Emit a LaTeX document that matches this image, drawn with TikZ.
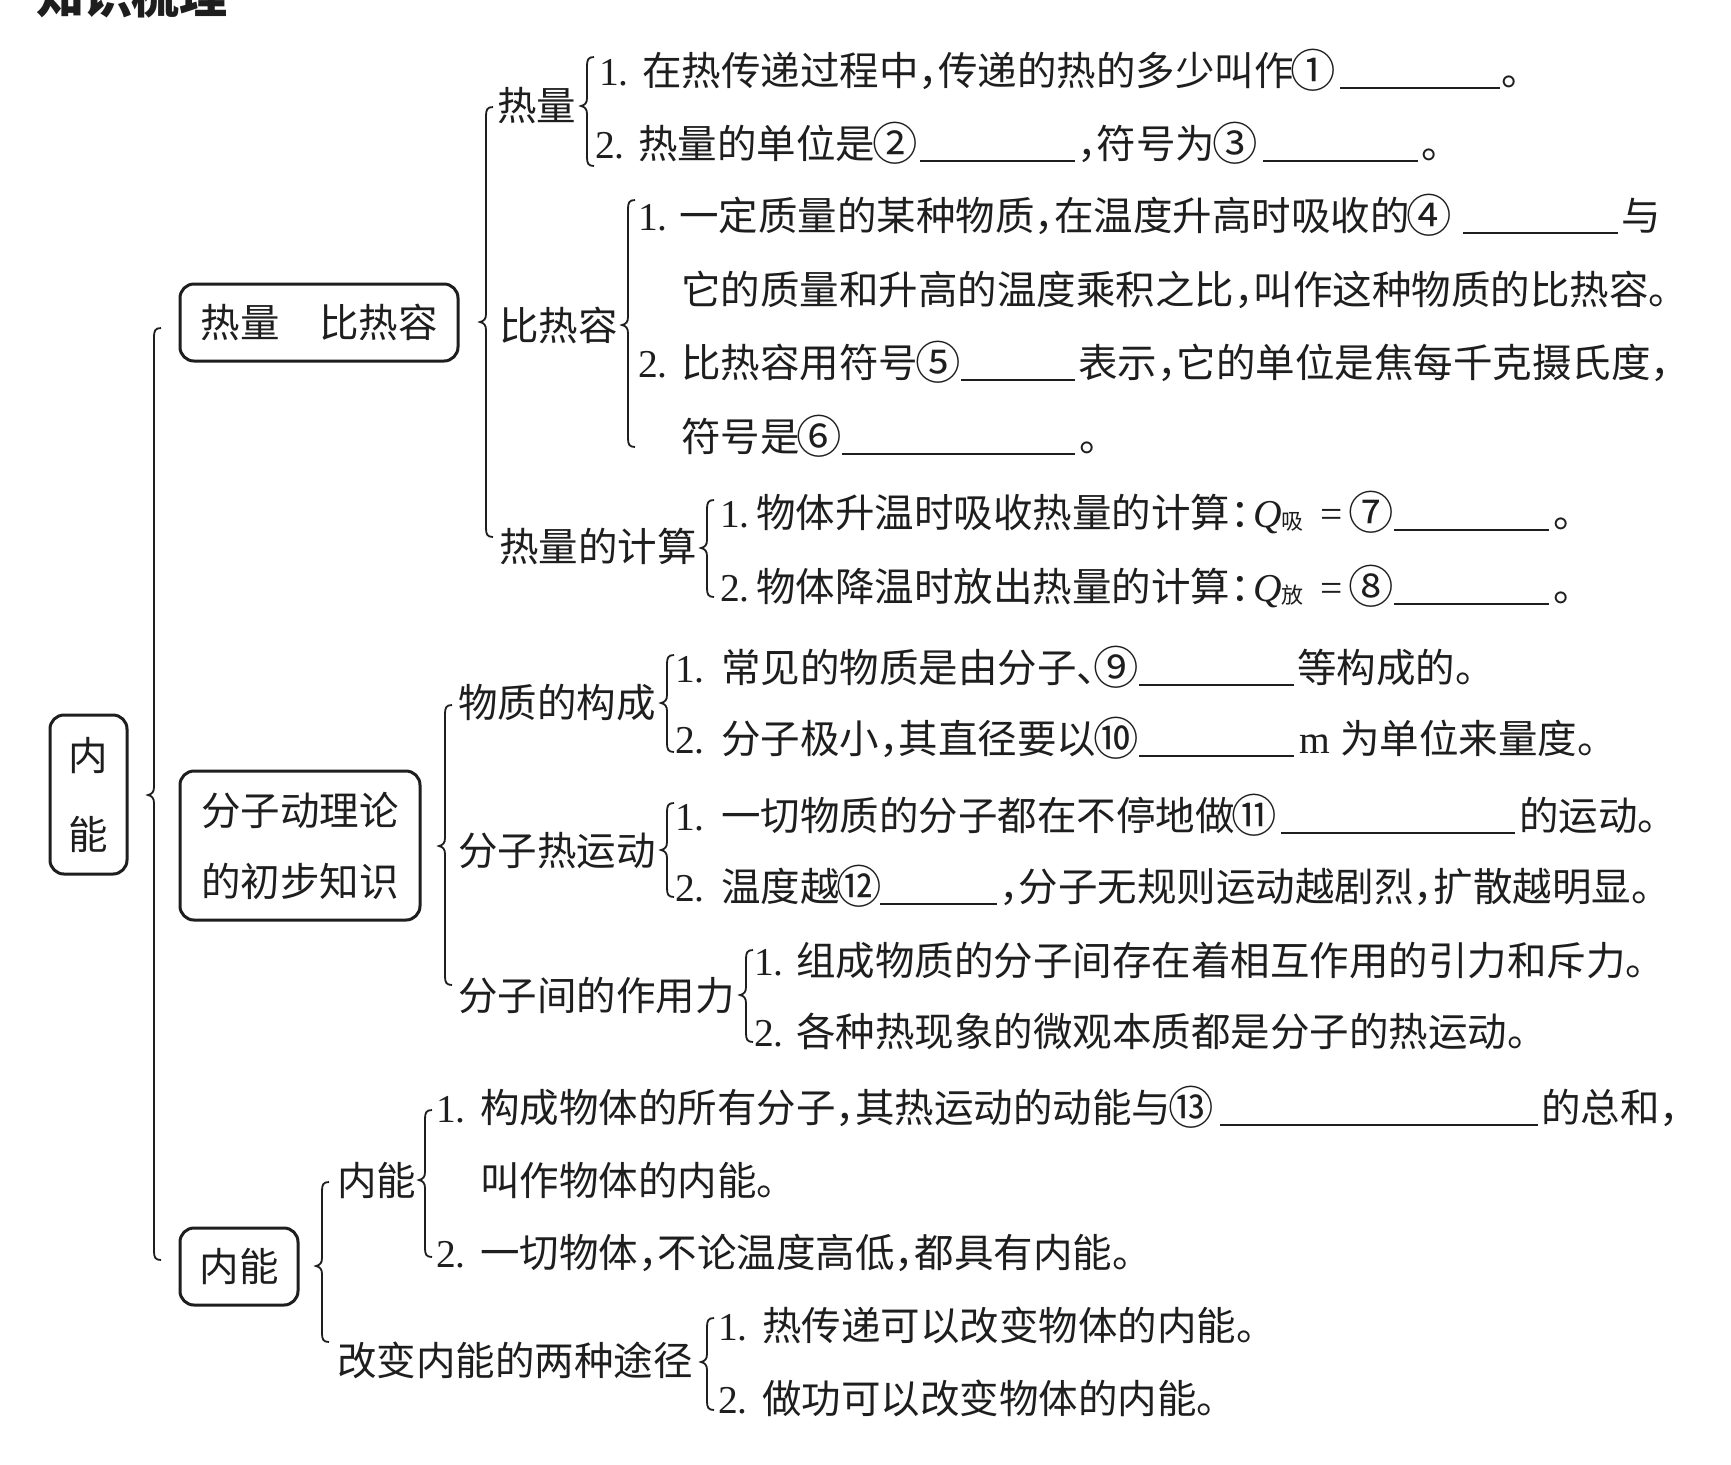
\documentclass[tikz,border=0pt]{standalone}
\usepackage{fontspec}
\usepackage{graphicx}
\setmainfont{Noto Sans CJK SC}
\newfontfamily\tm{Liberation Serif}
\definecolor{ink}{HTML}{1E1E1E}
\newcommand\hc[1]{\makebox[0.5em][l]{#1}}
\newcommand\cn[1]{\makebox[1em][c]{\raisebox{-0.06em}{\scalebox{1.15}{#1}}}}
\newcommand\cbrace[4]{%
  \draw[brc] ({#1+7},{#2}) .. controls ({#1+1},{#2}) and ({#1},{#2+3}) .. ({#1},{#2+9})
    -- ({#1},{#3-8}) .. controls ({#1},{#3-3}) and ({#1-2},{#3-1}) .. ({#1-6},{#3})
    .. controls ({#1-2},{#3+1}) and ({#1},{#3+3}) .. ({#1},{#3+8})
    -- ({#1},{#4-9}) .. controls ({#1},{#4-3}) and ({#1+1},{#4}) .. ({#1+7},{#4});}
\begin{document}
\begin{tikzpicture}[x=0.5pt,y=-0.5pt,
  txt/.style={anchor=base west, inner sep=0pt, outer sep=0pt, text=ink, font=\fontsize{19.75}{24}\selectfont},
  num/.style={txt, font=\fontsize{19.75}{24}\selectfont\tm},
  rbox/.style={draw=ink, line width=1.5pt, rounded corners=7pt, inner sep=0pt, align=center, text=ink, font=\fontsize{19.75}{35.5}\selectfont},
  brc/.style={draw=ink, line width=0.9pt},
  blankline/.style={draw=ink, line width=0.9pt}]
\useasboundingbox (0,0) rectangle (1731,1464);
\fill[white] (0,0) rectangle (1731,1464);

\node[txt, font=\fontsize{24}{24}\selectfont\bfseries] (title) at (36,13) {知识梳理};

% boxes
\node[rbox, minimum width=38.5pt, minimum height=79.5pt, font=\fontsize{19.75}{39.5}\selectfont] (root) at (88.5,794.5) {内\\能};
\node[rbox, minimum width=139pt, minimum height=38.5pt] (b1) at (319,322.5) {热量\hspace{1em}比热容};
\node[rbox, minimum width=120pt, minimum height=74.5pt] (b2) at (300,845.5) {分子动理论\\的初步知识};
\node[rbox, minimum width=59pt, minimum height=38.5pt] (b3) at (239,1266.5) {内能};

% labels
\node[txt] (l1) at (497,120) {热量};
\node[txt] (l2) at (499,340) {比热容};
\node[txt] (l3) at (499,561) {热量的计算};
\node[txt] (l4) at (458,717) {物质的构成};
\node[txt] (l5) at (458,865) {分子热运动};
\node[txt] (l6) at (458,1010) {分子间的作用力};
\node[txt] (l7) at (337,1195) {内能};
\node[txt] (l8) at (337,1375) {改变内能的两种途径};

% braces
\cbrace{154}{328}{795}{1260}
\cbrace{486}{107}{322}{537}
\cbrace{445}{705}{846}{985}
\cbrace{322}{1182}{1266}{1342}
\cbrace{587}{57}{106}{166}
\cbrace{628}{200}{325}{447}
\cbrace{707}{500}{548}{597}
\cbrace{667}{655}{703}{752}
\cbrace{667}{803}{850}{897}
\cbrace{746}{950}{995}{1042}
\cbrace{425}{1110}{1180}{1257}
\cbrace{707}{1318}{1362}{1410}

% 热量
\node[num] (q1n) at (599,85) {1.};
\node[txt] (q1) at (642,85) {在热传递过程中\hc{，}传递的热的多少叫作\cn{①}};
\draw[blankline] (1340,88) -- (1500,88);
\node[txt] (q1e) at (1501,85) {。};
\node[num] (q2n) at (595,158) {2.};
\node[txt] (q2) at (638,158) {热量的单位是\cn{②}};
\draw[blankline] (920,161) -- (1075,161);
\node[txt] (q2b) at (1077,158) {\hc{，}符号为\cn{③}};
\draw[blankline] (1263,161) -- (1418,161);
\node[txt] (q2e) at (1421,158) {。};

% 比热容
\node[num] (c1n) at (638,230) {1.};
\node[txt] (c1) at (679,230) {一定质量的某种物质\hc{，}在温度升高时吸收的\cn{④}};
\draw[blankline] (1463,233) -- (1618,233);
\node[txt] (c1e) at (1621,230) {与};
\node[txt] (c2) at (681,304) {它的质量和升高的温度乘积之比\hc{，}叫作这种物质的比热容。};
\node[num] (c3n) at (638,377) {2.};
\node[txt] (c3) at (681,377) {比热容用符号\cn{⑤}};
\draw[blankline] (961,380) -- (1075,380);
\node[txt] (c3b) at (1078,377) {表示\hc{，}它的单位是焦每千克摄氏度\hc{，}};
\node[txt] (c4) at (681,451) {符号是\cn{⑥}};
\draw[blankline] (842,454) -- (1075,454);
\node[txt] (c4e) at (1079,451) {。};

% 热量的计算
\node[num] (k1n) at (720,527) {1.};
\node[txt] (k1) at (756,527) {物体升温时吸收热量的计算\hc{：}};
\node[txt] (k1q) at (1253,527) {{\tm\itshape Q}\raisebox{-1pt}{\fontsize{11}{11}\selectfont 吸}};
\node[num] (k1eq) at (1320,527) {=};
\node[txt] (k1c) at (1351,527) {\cn{⑦}};
\draw[blankline] (1394,530) -- (1549,530);
\node[txt] (k1e) at (1553,527) {。};
\node[num] (k2n) at (720,601) {2.};
\node[txt] (k2) at (756,601) {物体降温时放出热量的计算\hc{：}};
\node[txt] (k2q) at (1253,601) {{\tm\itshape Q}\raisebox{-1pt}{\fontsize{11}{11}\selectfont 放}};
\node[num] (k2eq) at (1320,601) {=};
\node[txt] (k2c) at (1351,601) {\cn{⑧}};
\draw[blankline] (1394,604) -- (1549,604);
\node[txt] (k2e) at (1553,601) {。};

% 物质的构成
\node[num] (m1n) at (675,682) {1.};
\node[txt] (m1) at (721,682) {常见的物质是由分子\hc{、}\cn{⑨}};
\draw[blankline] (1139,685) -- (1294,685);
\node[txt] (m1e) at (1297,682) {等构成的。};
\node[num] (m2n) at (675,753) {2.};
\node[txt] (m2) at (721,753) {分子极小\hc{，}其直径要以\cn{⑩}};
\draw[blankline] (1139,756) -- (1294,756);
\node[num] (m2m) at (1299,753) {m};
\node[txt] (m2e) at (1340,753) {为单位来量度。};

% 分子热运动
\node[num] (h1n) at (675,830) {1.};
\node[txt] (h1) at (721,830) {一切物质的分子都在不停地做\cn{⑪}};
\draw[blankline] (1281,833) -- (1515,833);
\node[txt] (h1e) at (1519,830) {的运动。};
\node[num] (h2n) at (675,901) {2.};
\node[txt] (h2) at (721,901) {温度越\cn{⑫}};
\draw[blankline] (880,904) -- (997,904);
\node[txt] (h2e) at (999,901) {\hc{，}分子无规则运动越剧烈\hc{，}扩散越明显。};

% 分子间的作用力
\node[num] (f1n) at (754,975) {1.};
\node[txt] (f1) at (796,975) {组成物质的分子间存在着相互作用的引力和斥力。};
\node[num] (f2n) at (754,1046) {2.};
\node[txt] (f2) at (796,1046) {各种热现象的微观本质都是分子的热运动。};

% 内能
\node[num] (e1n) at (436,1122) {1.};
\node[txt] (e1) at (480,1122) {构成物体的所有分子\hc{，}其热运动的动能与\cn{⑬}};
\draw[blankline] (1220,1125) -- (1538,1125);
\node[txt] (e1e) at (1541,1122) {的总和\hc{，}};
\node[txt] (e2) at (480,1195) {叫作物体的内能。};
\node[num] (e3n) at (436,1267) {2.};
\node[txt] (e3) at (480,1267) {一切物体\hc{，}不论温度高低\hc{，}都具有内能。};

% 改变内能的两种途径
\node[num] (g1n) at (718,1340) {1.};
\node[txt] (g1) at (762,1340) {热传递可以改变物体的内能。};
\node[num] (g2n) at (718,1413) {2.};
\node[txt] (g2) at (762,1413) {做功可以改变物体的内能。};
\end{tikzpicture}
\end{document}
